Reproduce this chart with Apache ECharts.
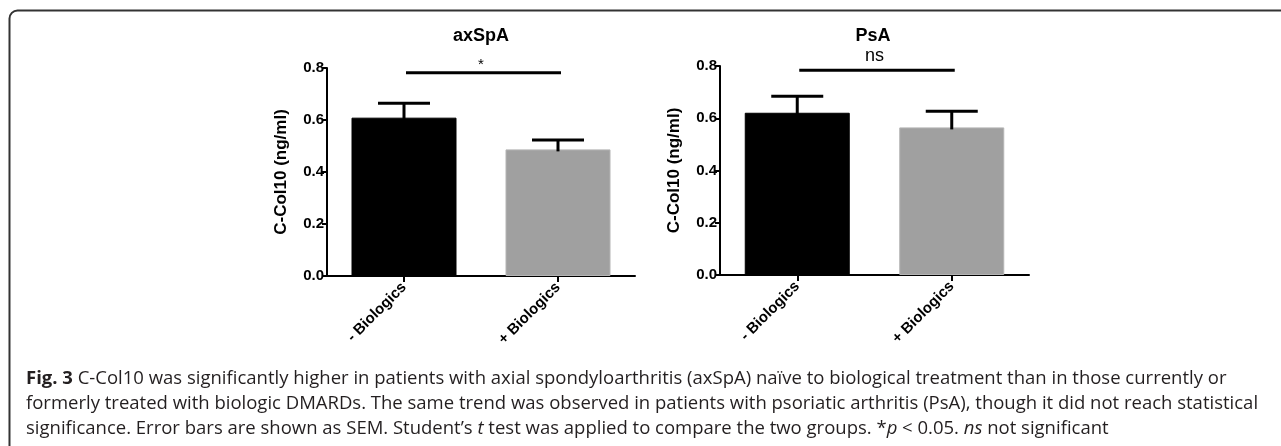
<!DOCTYPE html>
<html>
<head>
<meta charset="utf-8">
<script src="https://cdn.jsdelivr.net/npm/echarts@6/dist/echarts.min.js"></script>
<style>
html,body{margin:0;padding:0;background:#fff;}
#c{width:1281px;height:446px;}
</style>
</head>
<body>
<div id="c"></div>
<script>
// ---- data ----
var categories = ['- Biologics', '+ Biologics'];
var panelTitles = ['axSpA', 'PsA'];
var axspaMean = [0.609, 0.487];
var axspaSem = [0.055, 0.036];
var psaMean = [0.621, 0.565];
var psaSem = [0.063, 0.062];
var sigLevel = [0.782, 0.784];
var sigLabels = ['*', 'ns'];
var yTicks = [0, 0.2, 0.4, 0.6, 0.8];
var barColors = ['#000000', '#a0a0a0'];
var barBorders = ['#000000', '#b4b4b4'];
var yName = 'C-Col10 (ng/ml)';
var captionLines = [
  '{b|Fig. 3} C-Col10 was significantly higher in patients with axial spondyloarthritis (axSpA) naïve to biological treatment than in those currently or',
  'formerly treated with biologic DMARDs. The same trend was observed in patients with psoriatic arthritis (PsA), though it did not reach statistical',
  'significance. Error bars are shown as SEM. Student\u2019s {i|t} test was applied to compare the two groups. *{i|p} < 0.05. {i|ns} not significant'
];

var means = [axspaMean, psaMean];
var sems = [axspaSem, psaSem];

var chart = echarts.init(document.getElementById('c'), null, {renderer: 'canvas'});

var grids = [
  {left: 327, right: 646, top: 68, bottom: 170},
  {left: 720, right: 252, top: 66, bottom: 171}
];
var titleX = [481, 873];
var sigFont = [15, 18];

var xAxes = [], yAxes = [], series = [];
for (var g = 0; g < 2; g++) {
  xAxes.push({
    type: 'category', gridIndex: g, data: categories,
    axisLine: {show: true, lineStyle: {color: '#000', width: 2}},
    axisTick: {show: true, alignWithLabel: true, length: 6, lineStyle: {color: '#000', width: 2}},
    axisLabel: {rotate: 45, margin: 9, color: '#000', fontWeight: 'bold', fontSize: 15, fontFamily: 'Liberation Sans, Arial, sans-serif'},
    splitLine: {show: false}
  });
  yAxes.push({
    type: 'value', gridIndex: g, min: yTicks[0], max: yTicks[yTicks.length - 1], interval: 0.2,
    name: yName, nameLocation: 'middle', nameGap: 37,
    nameTextStyle: {color: '#000', fontWeight: 'bold', fontSize: 17, fontFamily: 'Liberation Sans, Arial, sans-serif'},
    axisLine: {show: true, lineStyle: {color: '#000', width: 2}},
    axisTick: {show: true, length: 5, lineStyle: {color: '#000', width: 2}},
    axisLabel: {margin: 3, color: '#000', fontWeight: 'bold', fontSize: 15, fontFamily: 'Liberation Sans, Arial, sans-serif',
      formatter: function (v) { return v.toFixed(1); }},
    splitLine: {show: false}
  });
  series.push({
    type: 'bar', xAxisIndex: g, yAxisIndex: g, barWidth: 105,
    data: means[g].map(function (v, i) { return {value: v, itemStyle: {color: barColors[i], borderColor: barBorders[i], borderWidth: 1}}; }),
    z: 2
  });
  series.push({
    type: 'custom', xAxisIndex: g, yAxisIndex: g, z: 3,
    data: means[g].map(function (v, i) { return [i, v, sems[g][i]]; }),
    renderItem: function (params, api) {
      var x = api.value(0), m = api.value(1), s = api.value(2);
      var p0 = api.coord([x, m]);
      var p1 = api.coord([x, m + s]);
      return {type: 'group', children: [
        {type: 'line', shape: {x1: p0[0], y1: p0[1] + 2, x2: p1[0], y2: p1[1]}, style: {stroke: '#000', lineWidth: 3}},
        {type: 'line', shape: {x1: p1[0] - 26, y1: p1[1], x2: p1[0] + 26, y2: p1[1]}, style: {stroke: '#000', lineWidth: 3}}
      ]};
    }
  });
  (function (gi) {
    series.push({
      type: 'custom', xAxisIndex: gi, yAxisIndex: gi, z: 3,
      data: [[0, sigLevel[gi], 1]],
      renderItem: function (params, api) {
        var y = api.value(1);
        var a = api.coord([0, y]);
        var b = api.coord([1, y]);
        var mid = (a[0] + b[0]) / 2;
        return {type: 'group', children: [
          {type: 'line', shape: {x1: a[0] + 2, y1: a[1], x2: b[0] + 3, y2: b[1]}, style: {stroke: '#000', lineWidth: 3}},
          {type: 'text', x: mid, y: a[1] - (gi === 0 ? 0 : 5), style: {text: sigLabels[gi], textAlign: 'center', textVerticalAlign: 'bottom',
            fill: '#000', fontSize: sigFont[gi], fontFamily: 'Liberation Sans, Arial, sans-serif'}}
        ]};
      }
    });
  })(g);
}

var graphics = [
  {type: 'rect', shape: {x: 9.5, y: 10.5, width: 1400, height: 600, r: 8}, style: {fill: 'none', stroke: '#333', lineWidth: 2}, silent: true}
];
for (var t = 0; t < 2; t++) {
  graphics.push({type: 'text', x: titleX[t], y: 36, style: {text: panelTitles[t], textAlign: 'center', textVerticalAlign: 'middle',
    fill: '#000', fontWeight: 'bold', fontSize: 18, fontFamily: 'Liberation Sans, Arial, sans-serif'}});
}
var capFont = 'Open Sans, Noto Sans, sans-serif';
var capSize = 18.5;
for (var l = 0; l < captionLines.length; l++) {
  graphics.push({type: 'text', x: 26, y: 379 + l * 25, style: {
    text: captionLines[l], textAlign: 'left', textVerticalAlign: 'middle',
    fill: '#231f20', fontSize: capSize, fontFamily: capFont,
    rich: {
      b: {fontWeight: 'bold', fontSize: capSize, fontFamily: capFont, fill: '#231f20'},
      i: {fontStyle: 'italic', fontSize: capSize, fontFamily: capFont, fill: '#231f20'}
    }
  }});
}

chart.setOption({
  animation: false,
  backgroundColor: '#fff',
  grid: grids,
  xAxis: xAxes,
  yAxis: yAxes,
  series: series,
  graphic: graphics
});
</script>
</body>
</html>
